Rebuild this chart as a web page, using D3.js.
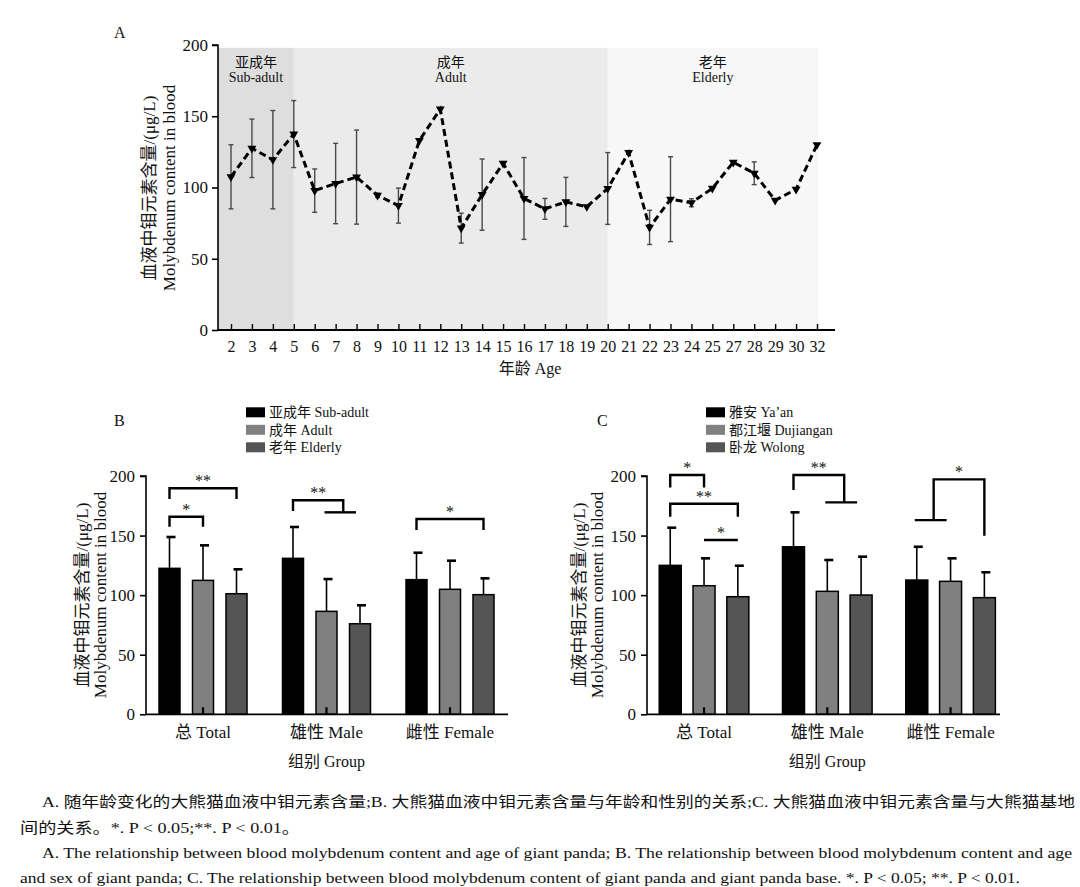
<!DOCTYPE html>
<html><head><meta charset="utf-8">
<script src="https://cdn.jsdelivr.net/npm/d3@7"></script>
<style>
body{margin:0;background:#fff;}
svg{display:block;}
text{font-family:"Liberation Serif","Times New Roman","Noto Sans CJK SC",serif;fill:#111;}
</style>
</head><body>
<svg id="chart" width="1080" height="887"></svg>
<script>
// ---------- Panel A data ----------
const ages = ["2","3","4","5","6","7","8","9","10","11","12","13","14","15","16","17","18","19","20","21","22","23","24","25","27","28","29","30","32"];
const ageMeans = [107.5,127.5,119.5,137.5,97.8,102.8,107.3,94.5,87.3,133,155,71.5,95,117,92.3,85,89.9,86.5,99.3,124.5,72,91.8,89.3,99.4,117.7,110,91,98.7,130];
const ageSD = [22.5,20.5,34.5,23.5,15.2,28.2,33,1.5,12.3,null,null,10.5,25,null,28.7,7.3,17.2,null,25.2,null,12,29.8,2.8,null,null,8,null,null,null];
const stageCN = ["亚成年","成年","老年"];
const stageEN = ["Sub-adult","Adult","Elderly"];
const stageStart = ["2","5","20"];
const stageEnd = ["5","20","32"];
const stageFill = ["#dedede","#ebebeb","#f7f7f7"];
const yTicksA = [0,50,100,150,200];

// ---------- Panel B / C data ----------
const groups = ["总 Total","雄性 Male","雌性 Female"];
const ageGroups = ["亚成年 Sub-adult","成年 Adult","老年 Elderly"];
const baseNames = ["雅安 Ya’an","都江堰 Dujiangan","卧龙 Wolong"];
const seriesColors = ["#000000","#808080","#555555"];
const bMeans = [[122.5,112.4,101.2],[130.9,86.4,76.0],[113.0,104.9,100.4]];
const bSD    = [[26.3,29.4,20.5],[26.3,27.1,15.5],[22.6,24.0,13.7]];
const cMeans = [[125.0,107.9,98.7],[140.6,103.2,100.1],[112.7,111.6,97.9]];
const cSD    = [[31.6,23.0,26.0],[28.9,26.3,32.2],[27.9,19.3,21.3]];
const yTicksBC = [0,50,100,150,200];
// significance brackets: group, side a series, side b series, top level, end levels, label
const sigB = [
  {g:0,a:[0],b:[2],top:189.7,aEnd:180.7,bEnd:180.7,label:"**"},
  {g:0,a:[0],b:[1],top:165.8,aEnd:157.4,bEnd:157.4,label:"*"},
  {g:1,a:[0],b:[1,2],top:179.6,aEnd:170.6,bEnd:169.5,label:"**"},
  {g:2,a:[0],b:[2],top:163.9,aEnd:154.7,bEnd:154.7,label:"*"}
];
const sigC = [
  {g:0,a:[0],b:[1],top:200.8,aEnd:190.3,bEnd:190.3,label:"*"},
  {g:0,a:[0],b:[2],top:176.7,aEnd:165.8,bEnd:165.8,label:"**"},
  {g:0,a:[1],b:[2],top:146.3,aEnd:146.3,bEnd:146.3,label:"*"},
  {g:1,a:[0],b:[1,2],top:200.8,aEnd:188.2,bEnd:177.9,label:"**"},
  {g:2,a:[0,1],b:[2],top:197.2,aEnd:163.0,bEnd:149.9,label:"*"}
];
const captions = [
  "A. 随年龄变化的大熊猫血液中钼元素含量;B. 大熊猫血液中钼元素含量与年龄和性别的关系;C. 大熊猫血液中钼元素含量与大熊猫基地",
  "间的关系。*. P < 0.05;**. P < 0.01。",
  "A. The relationship between blood molybdenum content and age of giant panda; B. The relationship between blood molybdenum content and age",
  "and sex of giant panda; C. The relationship between blood molybdenum content of giant panda and giant panda base. *. P < 0.05; **. P < 0.01."
];

const svg = d3.select("#chart");

// ================= Panel A =================
(function(){
  const x = d3.scalePoint().domain(ages).range([231,817]);
  const y = d3.scaleLinear().domain([0,200]).range([330,45]);
  const g = svg.append("g");
  stageCN.forEach((s,i)=>{
    const x0 = i===0 ? 218 : x(stageStart[i]);
    const x1 = i===stageCN.length-1 ? 818 : x(stageEnd[i]);
    g.append("rect").attr("x",x0).attr("y",y(198)).attr("width",x1-x0).attr("height",y(0)-y(198)).attr("fill",stageFill[i]);
    g.append("text").attr("x",(x0+x1)/2).attr("y",67).attr("text-anchor","middle").attr("font-size",14).attr("fill","#333").text(s);
    g.append("text").attr("x",(x0+x1)/2).attr("y",82).attr("text-anchor","middle").attr("font-size",14).attr("fill","#333").text(stageEN[i]);
  });
  const ya = g.append("g").attr("transform","translate(218,0)")
    .call(d3.axisLeft(y).tickValues(yTicksA).tickSize(6).tickPadding(4));
  ya.select(".domain").attr("stroke-width",1.6).attr("d","M-6,45H0V330");
  ya.selectAll(".tick line").attr("stroke-width",1.6);
  ya.selectAll(".tick text").attr("font-size",17).attr("font-family","Liberation Serif");
  const xa = g.append("g").attr("transform","translate(0,330)")
    .call(d3.axisBottom(x).tickSize(-6).tickPadding(8));
  xa.select(".domain").attr("d","M218,0H835").attr("stroke-width",1.8);
  xa.selectAll(".tick line").attr("stroke-width",1.4);
  xa.selectAll(".tick text").attr("font-size",16).attr("font-family","Liberation Serif").attr("dy","0.9em");
  const eg = g.append("g").attr("stroke","#4a4a4a").attr("stroke-width",1.4);
  ages.forEach((a,i)=>{
    if(ageSD[i]==null) return;
    const cx = x(a), t = y(ageMeans[i]+ageSD[i]), b = y(ageMeans[i]-ageSD[i]);
    eg.append("line").attr("x1",cx).attr("x2",cx).attr("y1",t).attr("y2",b);
    eg.append("line").attr("x1",cx-2.5).attr("x2",cx+2.5).attr("y1",t).attr("y2",t);
    eg.append("line").attr("x1",cx-2.5).attr("x2",cx+2.5).attr("y1",b).attr("y2",b);
  });
  const line = d3.line().x((d,i)=>x(ages[i])).y(d=>y(d));
  g.append("path").datum(ageMeans).attr("d",line).attr("fill","none").attr("stroke","#000")
    .attr("stroke-width",3).attr("stroke-dasharray","7,4");
  g.selectAll(".mk").data(ageMeans).enter().append("path")
    .attr("d",d3.symbol().type(d3.symbolTriangle).size(34))
    .attr("transform",(d,i)=>`translate(${x(ages[i])},${y(d)}) rotate(180)`)
    .attr("fill","#000");
  g.append("text").attr("x",114).attr("y",38).attr("font-size",16).text("A");
  g.append("text").attr("transform","translate(155,188) rotate(-90)").attr("text-anchor","middle").attr("font-size",17).attr("fill","#000").text("血液中钼元素含量/(μg/L)");
  g.append("text").attr("transform","translate(175,188) rotate(-90)").attr("text-anchor","middle").attr("font-size",17).attr("fill","#000").text("Molybdenum content in blood");
  g.append("text").attr("x",530).attr("y",374).attr("text-anchor","middle").attr("font-size",16).text("年龄 Age");
})();

// ================= Panels B & C =================
function barPanel(opt){
  const y = d3.scaleLinear().domain([0,200]).range([714.3,476]);
  const x0 = d3.scaleBand().domain(groups).range(opt.range);
  const half = opt.innerStep*1.5;
  const pIn = 1 - opt.barW/opt.innerStep;
  const x1 = d3.scaleBand().domain([0,1,2]).range([-half,half]).paddingInner(pIn).paddingOuter(pIn/2);
  const cx = (gi,si)=> x0(groups[gi]) + x0.bandwidth()/2 + x1(si) + x1.bandwidth()/2;
  const g = svg.append("g");
  opt.means.forEach((row,gi)=>{
    row.forEach((v,si)=>{
      const bx = x0(groups[gi]) + x0.bandwidth()/2 + x1(si);
      g.append("rect").attr("x",bx).attr("y",y(v)).attr("width",x1.bandwidth()).attr("height",y(0)-y(v))
        .attr("fill",seriesColors[si]).attr("stroke","#000").attr("stroke-width",1.5);
      const c = cx(gi,si), t = y(v+opt.sd[gi][si]);
      g.append("line").attr("x1",c).attr("x2",c).attr("y1",y(v)).attr("y2",t).attr("stroke","#000").attr("stroke-width",1.6);
      g.append("line").attr("x1",c-3).attr("x2",c+6).attr("y1",t).attr("y2",t).attr("stroke","#000").attr("stroke-width",2.6);
    });
  });
  const ya = g.append("g").attr("transform",`translate(${opt.axisX},0)`)
    .call(d3.axisLeft(y).tickValues(yTicksBC).tickSize(6).tickPadding(5));
  ya.select(".domain").attr("d","M-6,476H0V714.3").attr("stroke-width",1.6);
  ya.selectAll(".tick line").attr("stroke-width",1.6);
  ya.selectAll(".tick text").attr("font-size",17).attr("font-family","Liberation Serif");
  const xa = g.append("g").attr("transform","translate(0,714.3)")
    .call(d3.axisBottom(x0).tickSize(-7).tickPadding(10));
  xa.select(".domain").attr("d",`M${opt.axisX},0H${opt.axisEnd}`).attr("stroke-width",1.8);
  xa.selectAll(".tick line").attr("stroke-width",2.2);
  xa.selectAll(".tick text").attr("font-size",17).attr("dy","0.8em");
  const bg = g.append("g").attr("fill","none").attr("stroke","#000").attr("stroke-width",2.4);
  opt.sig.forEach(s=>{
    const side = (arr,end)=>{
      if(arr.length===1){ const px = cx(s.g,arr[0]); return {px, seg:[[px,y(s.top)],[px,y(end)]], extra:null}; }
      const pa = cx(s.g,arr[0]), pb = cx(s.g,arr[1]); const px=(pa+pb)/2;
      return {px, seg:[[px,y(s.top)],[px,y(end)]], extra:[[pa-2,y(end)],[pb-4,y(end)]]};
    };
    const A = side(s.a,s.aEnd), B = side(s.b,s.bEnd);
    bg.append("path").attr("d", d3.line()([A.seg[1],A.seg[0],B.seg[0],B.seg[1]]));
    if(A.extra) bg.append("path").attr("d", d3.line()(A.extra));
    if(B.extra) bg.append("path").attr("d", d3.line()(B.extra));
    g.append("text").attr("x",(A.px+B.px)/2).attr("y",y(s.top)-2).attr("text-anchor","middle")
      .attr("font-size",16).attr("fill","#000").text(s.label);
  });
  opt.legend.forEach((t,i)=>{
    const ly = 412.3 + i*17.5;
    g.append("rect").attr("x",opt.legX).attr("y",ly-5).attr("width",19).attr("height",10).attr("fill",seriesColors[i]);
    g.append("text").attr("x",opt.legX+23).attr("y",ly+5).attr("font-size",14).attr("fill","#222").text(t);
  });
  g.append("text").attr("x",opt.letterX).attr("y",426).attr("font-size",16).text(opt.letter);
  g.append("text").attr("transform",`translate(${opt.labX1},595) rotate(-90)`).attr("text-anchor","middle").attr("font-size",17).attr("fill","#000").text("血液中钼元素含量/(μg/L)");
  g.append("text").attr("transform",`translate(${opt.labX2},595) rotate(-90)`).attr("text-anchor","middle").attr("font-size",17).attr("fill","#000").text("Molybdenum content in blood");
  g.append("text").attr("x",(x0(groups[0])+x0(groups[2])+x0.bandwidth())/2).attr("y",767).attr("text-anchor","middle").attr("font-size",16).text("组别 Group");
}

barPanel({letter:"B",letterX:114,range:[141.25,511.75],innerStep:33.5,barW:21,axisX:146,axisEnd:508,
  means:bMeans,sd:bSD,sig:sigB,legend:ageGroups,legX:246,labX1:88,labX2:106});
barPanel({letter:"C",letterX:597,range:[642.4,1012.2],innerStep:33.8,barW:22,axisX:647,axisEnd:1000,
  means:cMeans,sd:cSD,sig:sigC,legend:baseNames,legX:706,labX1:585,labX2:603});

// ================= Captions =================
const capX = [42,20,42,20], capY = [807,833,858,883], capW = [1033,280,1030,1000];
captions.forEach((c,i)=>{
  svg.append("text").attr("x",capX[i]).attr("y",capY[i]).attr("font-size",15).attr("fill","#333")
    .attr("textLength",capW[i]).attr("lengthAdjust","spacingAndGlyphs").text(c);
});
</script>
</body></html>
